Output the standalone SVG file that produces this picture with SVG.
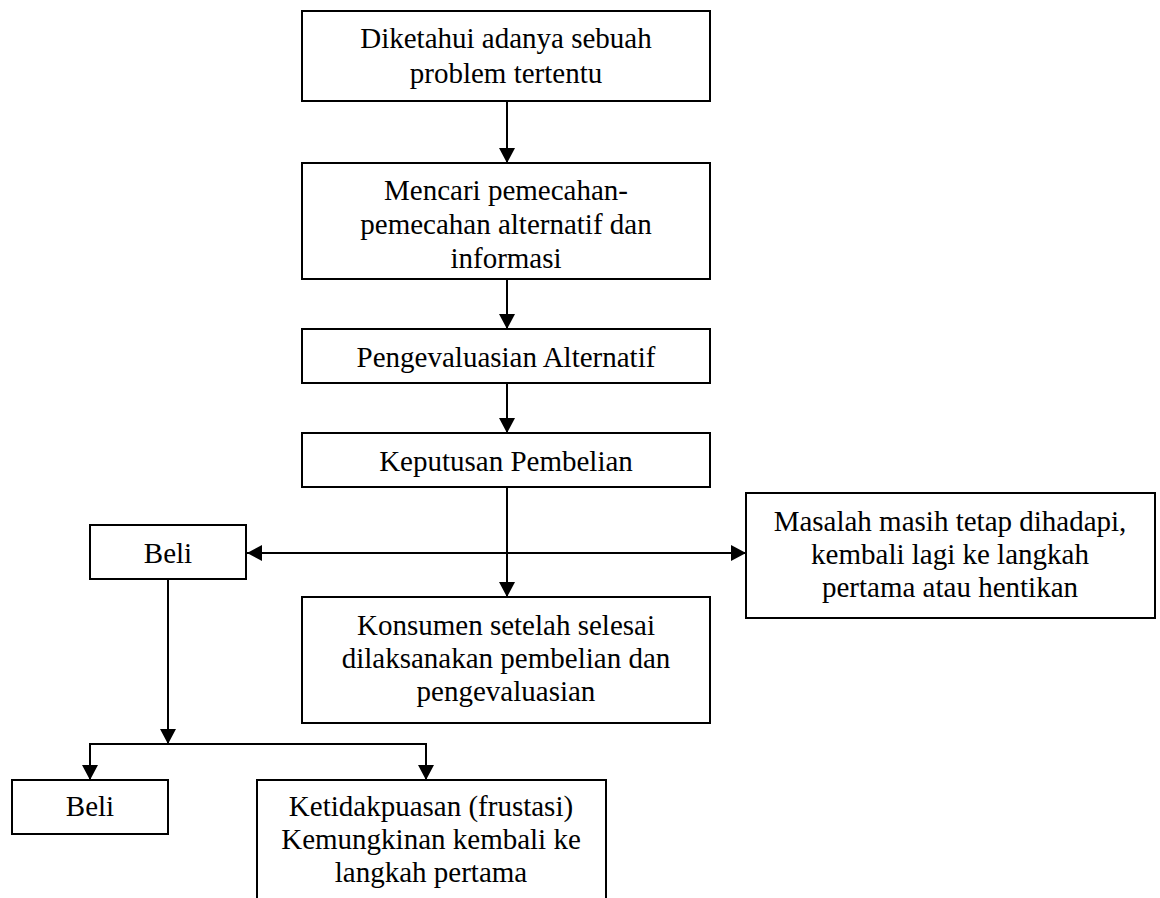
<svg xmlns="http://www.w3.org/2000/svg" width="1160" height="898" viewBox="0 0 1160 898">
<style>
.box{fill:#fff;stroke:#000;stroke-width:2}
.t{font-family:"Liberation Serif","Times New Roman",serif;font-size:29px;fill:#000;text-anchor:middle}
.c{fill:none;stroke:#000;stroke-width:2}
</style>
<defs>
<marker id="ah" viewBox="0 0 15 16" refX="15" refY="8" markerWidth="15" markerHeight="16" markerUnits="userSpaceOnUse" orient="auto-start-reverse">
<path d="M0,0 L15,8 L0,16 Z" fill="#000"/>
</marker>
</defs>
<rect width="1160" height="898" fill="#fff"/>
<g id="connectors">
<line class="c" x1="507" y1="102" x2="507" y2="163" marker-end="url(#ah)"/>
<line class="c" x1="507" y1="280" x2="507" y2="329" marker-end="url(#ah)"/>
<line class="c" x1="507" y1="384" x2="507" y2="433" marker-end="url(#ah)"/>
<line class="c" x1="507" y1="488" x2="507" y2="597" marker-end="url(#ah)"/>
<line class="c" x1="247" y1="553" x2="746" y2="553" marker-start="url(#ah)" marker-end="url(#ah)"/>
<line class="c" x1="168" y1="580" x2="168" y2="744" marker-end="url(#ah)"/>
<polyline class="c" points="90,779 90,744 426,744 426,779"/>
<line class="c" x1="90" y1="760" x2="90" y2="780" marker-end="url(#ah)"/>
<line class="c" x1="426" y1="760" x2="426" y2="780" marker-end="url(#ah)"/>
</g>
<g id="n1"><rect class="box" x="302" y="11" width="408" height="90"/>
<text class="t" x="506" y="48">Diketahui adanya sebuah</text>
<text class="t" x="506" y="83">problem tertentu</text></g>
<g id="n2"><rect class="box" x="302" y="163" width="408" height="116"/>
<text class="t" x="506" y="200">Mencari pemecahan-</text>
<text class="t" x="506" y="234">pemecahan alternatif dan</text>
<text class="t" x="506" y="268">informasi</text></g>
<g id="n3"><rect class="box" x="302" y="329" width="408" height="54"/>
<text class="t" x="506" y="367">Pengevaluasian Alternatif</text></g>
<g id="n4"><rect class="box" x="302" y="433" width="408" height="54"/>
<text class="t" x="506" y="471">Keputusan Pembelian</text></g>
<g id="n5"><rect class="box" x="90" y="525" width="156" height="54"/>
<text class="t" x="168" y="563">Beli</text></g>
<g id="n6"><rect class="box" x="746" y="493" width="409" height="125"/>
<text class="t" x="950" y="531">Masalah masih tetap dihadapi,</text>
<text class="t" x="950" y="564">kembali lagi ke langkah</text>
<text class="t" x="950" y="597">pertama atau hentikan</text></g>
<g id="n7"><rect class="box" x="302" y="597" width="408" height="126"/>
<text class="t" x="506" y="635">Konsumen setelah selesai</text>
<text class="t" x="506" y="668">dilaksanakan pembelian dan</text>
<text class="t" x="506" y="701">pengevaluasian</text></g>
<g id="n8"><rect class="box" x="12" y="780" width="156" height="54"/>
<text class="t" x="90" y="816">Beli</text></g>
<g id="n9"><rect class="box" x="257" y="780" width="349" height="140"/>
<text class="t" x="431" y="816">Ketidakpuasan (frustasi)</text>
<text class="t" x="431" y="849">Kemungkinan kembali ke</text>
<text class="t" x="431" y="882">langkah pertama</text></g>
</svg>
